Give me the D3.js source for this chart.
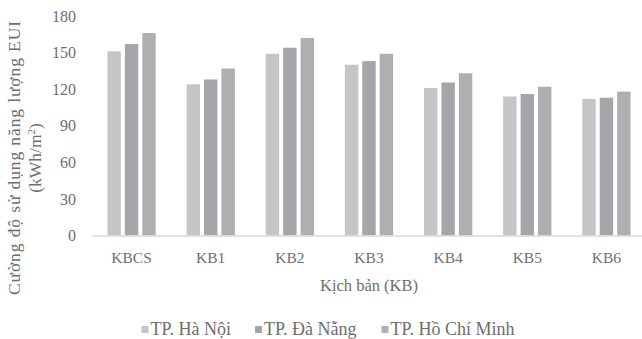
<!DOCTYPE html>
<html><head><meta charset="utf-8">
<script src="https://cdn.jsdelivr.net/npm/d3@7"></script>
<style>body{margin:0;background:#fff}svg{display:block}text{font-family:"Liberation Serif","DejaVu Serif",serif;fill:#6e6e6e}</style>
</head><body>
<script>
const categories = ["KBCS","KB1","KB2","KB3","KB4","KB5","KB6"];
const seriesNames = ["TP. Hà Nội","TP. Đà Nẵng","TP. Hồ Chí Minh"];
const hanoi   = [151, 124, 149, 140, 121, 114, 112];
const danang  = [157, 128, 154, 143, 125.5, 116, 113];
const hcm     = [166, 137, 162, 149, 133, 122, 118];
const yTicks  = [0,30,60,90,120,150,180];
const colors  = ["#c4c5c7","#a5a6a9","#aeafb1"];
const series = [hanoi, danang, hcm];

const W=642,H=339;
const svg=d3.select("body").append("svg").attr("width",W).attr("height",H);
const x0=d3.scaleBand().domain(categories).range([92,646]).paddingInner(0.39).paddingOuter(0.195);
const x1=d3.scaleBand().domain(d3.range(3)).range([0,x0.bandwidth()]).paddingInner(0.23);
const y=d3.scaleLinear().domain([0,180]).range([235.5,16]);

// bars
categories.forEach((c,i)=>{
  series.forEach((s,j)=>{
    svg.append("rect").attr("x",x0(c)+x1(j)).attr("width",x1.bandwidth())
      .attr("y",y(s[i])).attr("height",y(0)-y(s[i])).attr("fill",colors[j]);
  });
});
// axis line
svg.append("line").attr("x1",92).attr("x2",646).attr("y1",236).attr("y2",236).attr("stroke","#d9d9d9").attr("stroke-width",1.5);

// y axis
const ya=d3.axisLeft(y).tickValues(yTicks).tickSize(0).tickPadding(0);
const gy=svg.append("g").attr("transform","translate(76,0)").call(ya);
gy.select(".domain").remove();
gy.selectAll("text").attr("font-size",16).style("font-family","Liberation Serif").attr("fill","#6e6e6e");

// x axis
const xa=d3.axisBottom(x0).tickSize(0).tickPadding(0);
const gx=svg.append("g").attr("transform","translate(0,252)").call(xa);
gx.select(".domain").remove();
gx.selectAll("text").attr("font-size",15.5).style("font-family","Liberation Serif").attr("fill","#6e6e6e");

svg.append("text").attr("x",369).attr("y",291).attr("text-anchor","middle").attr("font-size",16.5).text("Kịch bản (KB)");

// y title
const yt=svg.append("text").attr("transform","translate(0,158) rotate(-90)").attr("text-anchor","middle").attr("font-size",17.5);
yt.append("tspan").attr("x",0).attr("y",20).attr("textLength",274).attr("lengthAdjust","spacing").text("Cường độ sử dụng năng lượng EUI");
yt.append("tspan").attr("x",0).attr("y",41).text("(kWh/m").append("tspan").attr("dy",-6).attr("font-size",11).text("2");
yt.append("tspan").attr("dy",6).text(")");

// legend
const legX=[141.5,255,381.5];
seriesNames.forEach((n,j)=>{
  svg.append("rect").attr("x",legX[j]).attr("y",326).attr("width",7).attr("height",7).attr("fill",colors[j]);
  svg.append("text").attr("x",legX[j]+9).attr("y",335).attr("font-size",18).text(n);
});
</script>
</body></html>
